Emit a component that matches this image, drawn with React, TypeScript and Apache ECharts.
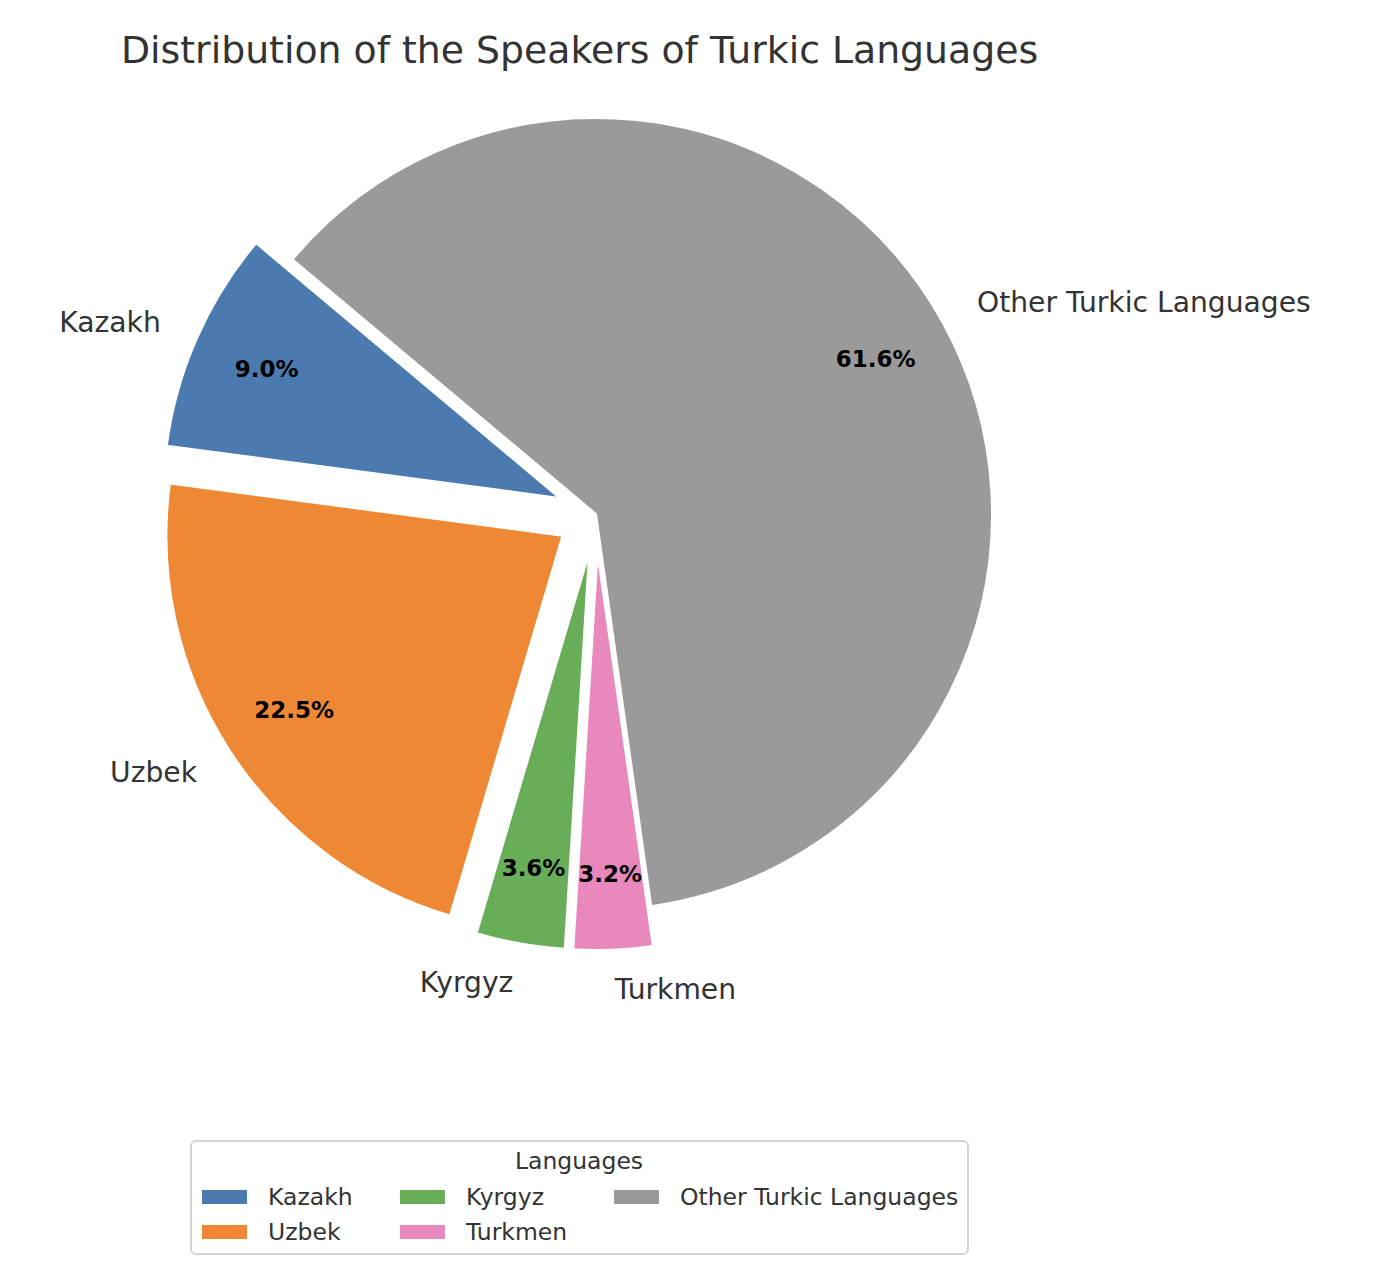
import React, { useEffect, useRef } from 'react';
import * as echarts from 'echarts';

const languages = ['Kazakh', 'Uzbek', 'Kyrgyz', 'Turkmen', 'Other Turkic Languages'];
const shares = [9.0, 22.5, 3.6, 3.2, 61.6];
const exploded = [true, true, true, true, false];
const colors = ['#4a7ab0', '#ef8834', '#68ae58', '#e888bc', '#9a9a9a'];
const legendColumns = [['Kazakh', 'Uzbek'], ['Kyrgyz', 'Turkmen'], ['Other Turkic Languages']];
const legendLefts = [200, 398, 612];

const FONT = '"DejaVu Sans", sans-serif';
const CX = 596;
const CY = 514;
const R = 396;
const OFFSET = 40;

export default function App() {
  const ref = useRef<HTMLDivElement>(null);
  useEffect(() => {
    const chart = echarts.init(ref.current!, null, { renderer: 'svg' });
    const data = languages.map((name, i) => ({
      name,
      value: shares[i],
      selected: exploded[i],
      itemStyle: { color: colors[i] },
    }));
    const dataT = languages.map((name, i) => ({
      name,
      value: shares[i],
      selected: exploded[i],
      itemStyle: { color: 'rgba(0,0,0,0)', borderWidth: 0 },
    }));
    const common: any = {
      type: 'pie',
      center: [CX, CY],
      startAngle: 140,
      clockwise: false,
      selectedMode: 'multiple',
      selectedOffset: OFFSET,
      avoidLabelOverlap: false,
      emphasis: { disabled: true },
    };
    chart.setOption({
      animation: false,
      backgroundColor: '#ffffff',
      title: {
        text: 'Distribution of the Speakers of Turkic Languages',
        left: 121,
        top: 31,
        padding: 0,
        textStyle: { fontSize: 37.8, fontWeight: 'normal', color: '#333333', fontFamily: FONT },
      },
      legend: legendColumns.map((col, k) => ({
        orient: 'vertical',
        left: legendLefts[k],
        top: 1185,
        padding: 0,
        itemWidth: 47,
        itemHeight: 16,
        itemGap: 11,
        icon: 'rect',
        selectedMode: false,
        data: col,
        textStyle: { fontSize: 23.5, color: '#333333', fontFamily: FONT, lineHeight: 24, padding: [0, 0, 0, 15] },
      })),
      graphic: [
        {
          type: 'rect',
          z: 0,
          shape: { x: 191, y: 1141, width: 777, height: 113, r: 5 },
          style: { fill: '#ffffff', stroke: '#d4d4d4', lineWidth: 2 },
        },
        {
          type: 'text',
          z: 1,
          x: 579,
          y: 1161,
          style: {
            text: 'Languages',
            fill: '#333333',
            fontSize: 23.5,
            fontFamily: FONT,
            align: 'center',
            verticalAlign: 'middle',
          },
        },
      ],
      series: [
        {
          ...common,
          radius: [0, R],
          data,
          itemStyle: { borderColor: '#ffffff', borderWidth: 2 },
          select: { itemStyle: { borderColor: '#ffffff', borderWidth: 2 } },
          label: {
            show: true,
            position: 'outside',
            formatter: '{b}',
            fontSize: 28.2,
            color: '#333333',
            fontFamily: FONT,
            distanceToLabelLine: 0,
          },
          labelLine: { show: false, length: R * 0.1, length2: 0 },
        },
        {
          ...common,
          radius: [R * 0.6, R],
          data: dataT,
          silent: true,
          label: {
            show: true,
            position: 'inside',
            formatter: (p: any) => `${Number(p.value).toFixed(1)}%`,
            fontSize: 23,
            fontWeight: 'bold',
            color: '#000000',
            fontFamily: FONT,
          },
          labelLine: { show: false },
        },
      ],
    });
    return () => chart.dispose();
  }, []);
  return (
    <div
      ref={ref}
      style={{ position: 'fixed', left: 0, top: 0, width: 1374, height: 1272 }}
    />
  );
}
